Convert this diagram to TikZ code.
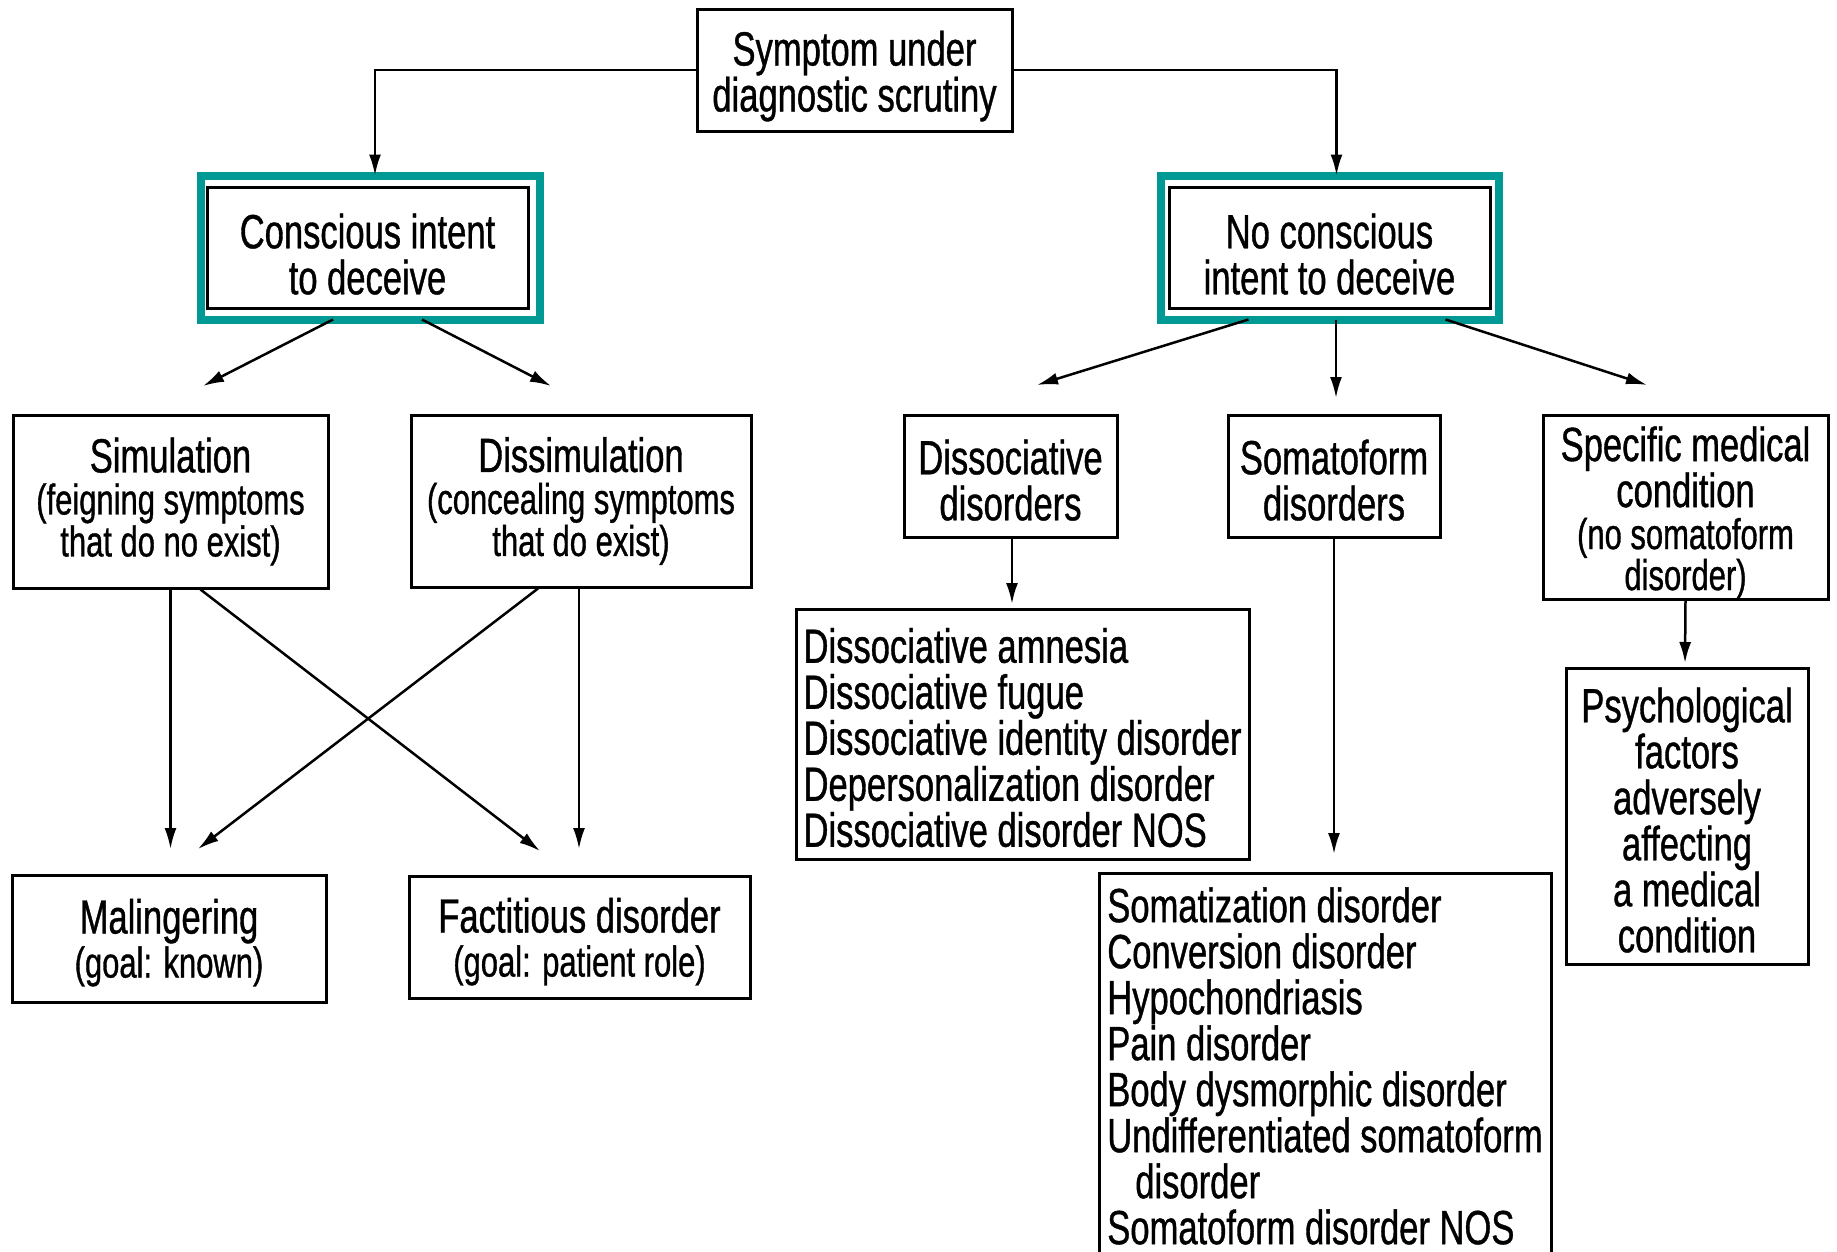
\documentclass[tikz,border=0pt]{standalone}
\usepackage{fontspec}
\setmainfont{Liberation Sans}[FakeStretch=0.72,FakeBold=0.8]
\usetikzlibrary{arrows.meta,fit}
\definecolor{frameteal}{RGB}{0,153,148}
\newcommand{\bigtxt}{\fontsize{48}{46}\selectfont}
\newcommand{\smalltxt}{\fontsize{43}{41}\selectfont}
\newcommand{\topstrut}[1][47pt]{\rule{0pt}{#1}}

\begin{document}
\begin{tikzpicture}[x=1pt,y=-1pt,
  box/.style={draw=black,line width=3pt,align=center,inner sep=0pt,font=\bigtxt},
  listbox/.style={box,align=left},
  tealframe/.style={draw=frameteal,line width=8pt,inner xsep=5pt,inner ysep=10pt,outer sep=0pt},
  arr/.style={line width=2.5pt,-{Latex[length=21pt,width=12pt]}}]
\path[use as bounding box] (0,0) rectangle (1837,1251);
\clip (0,0) rectangle (1837,1251);

% top and the two intent boxes
\node[box,minimum width=315pt,minimum height=122pt] (symptom) at (854.5,70) {\topstrut Symptom under\\diagnostic scrutiny};
\node[box,minimum width=321pt,minimum height=121pt] (consc) at (367.5,247.5) {\topstrut[48pt]Conscious intent\\to deceive};
\node[box,minimum width=321pt,minimum height=121pt] (nocon) at (1329.5,247.5) {\topstrut[48pt]No conscious\\intent to deceive};

% conscious side
\node[box,minimum width=315pt,minimum height=173pt] (simul) at (170.5,501.5) {Simulation\\[-4pt]{\smalltxt (feigning symptoms}\\[-4pt]{\smalltxt that do no exist)}};
\node[box,minimum width=340pt,minimum height=172pt] (dissim) at (581,501) {Dissimulation\\[-4pt]{\smalltxt (concealing symptoms}\\[-4pt]{\smalltxt that do exist)}};
\node[box,minimum width=314pt,minimum height=127pt] (maling) at (169,938.5) {\topstrut[43pt]Malingering\\[-2pt]{\smalltxt (goal: known)}};
\node[box,minimum width=341pt,minimum height=122pt] (factit) at (579.5,937) {\topstrut[44pt]Factitious disorder\\[-2pt]{\smalltxt (goal: patient role)}};

% no conscious side
\node[box,minimum width=213pt,minimum height=122pt] (dissoc) at (1010.5,476) {\topstrut[43pt]Dissociative\\disorders};
\node[box,minimum width=212pt,minimum height=122pt] (somato) at (1334,476) {\topstrut[43pt]Somatoform\\disorders};
\node[box,minimum width=285pt,minimum height=184pt] (specific) at (1685.5,507) {\topstrut[46pt]Specific medical\\condition\\[-4pt]{\smalltxt (no somatoform}\\[-5pt]{\smalltxt disorder)}};
\node[listbox,minimum width=453pt,minimum height=250pt] (dislist) at (1022.5,734) {\topstrut[42pt]Dissociative amnesia\\Dissociative fugue\\Dissociative identity disorder\\Depersonalization disorder\\Dissociative disorder NOS};
\node[listbox,minimum width=452pt,minimum height=386pt] (somlist) at (1325,1066) {Somatization disorder\\Conversion disorder\\Hypochondriasis\\Pain disorder\\Body dysmorphic disorder\\Undifferentiated somatoform\\\hspace*{28pt}disorder\\Somatoform disorder NOS};
\node[box,minimum width=242pt,minimum height=296pt] (psych) at (1687,816) {\topstrut[43pt]Psychological\\factors\\adversely\\affecting\\a medical\\condition};

% arrow tips
\coordinate (simulTip) at (203,386);
\coordinate (dissimTip) at (551,386);
\coordinate (dissocTip) at (1037,385);
\coordinate (somatoTip) at (1336,398);
\coordinate (specificTip) at (1647,385);
\coordinate (malingTipA) at (170.5,849);
\coordinate (malingTipB) at (198,849);
\coordinate (factitTipA) at (540,851);
\coordinate (factitTipB) at (579,849);
\coordinate (dislistTip) at (1012,604);
\coordinate (somlistTip) at (1334,854);
\coordinate (psychTip) at (1685,663);

% teal frames
\coordinate (conscNE) at ([xshift=5pt]consc.north east);
\node[tealframe,fit=(consc)(conscNE)] (conscF) {};
\node[tealframe,inner xsep=7pt,fit=(nocon)] (noconF) {};

\draw[arr] (symptom.west) -| ([xshift=5pt]conscF.north);
\draw[arr] (symptom.east) -| ([xshift=7pt]noconF.north);
\draw[arr] ([xshift=-37pt]conscF.south) -- (simulTip);
\draw[arr] ([xshift=52pt]conscF.south) -- (dissimTip);
\draw[arr] ([xshift=-81pt]noconF.south) -- (dissocTip);
\draw[arr] ([xshift=6.5pt]noconF.south) -- (somatoTip);
\draw[arr] ([xshift=116pt]noconF.south) -- (specificTip);
\draw[arr] (simul.south) -- (malingTipA);
\draw[arr] ([xshift=30pt]simul.south) -- (factitTipA);
\draw[arr] ([xshift=-43pt]dissim.south) -- (malingTipB);
\draw[arr] ([xshift=-2pt]dissim.south) -- (factitTipB);
\draw[arr] ([xshift=1.5pt]dissoc.south) -- (dislistTip);
\draw[arr] (somato.south) -- (somlistTip);
\draw[arr] (specific.south) -- (psychTip);
\end{tikzpicture}
\end{document}
